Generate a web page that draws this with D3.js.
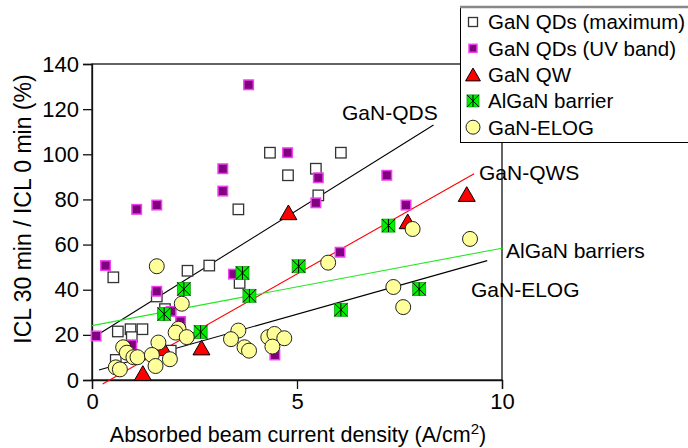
<!DOCTYPE html>
<html>
<head>
<meta charset="utf-8">
<script src="https://cdn.jsdelivr.net/npm/d3@7"></script>
<style>
  html, body { margin: 0; padding: 0; background: #fff; }
  svg { display: block; font-family: "Liberation Sans", Arial, Helvetica, sans-serif; }
</style>
</head>
<body>
<svg id="chart" width="688" height="448"></svg>
<script>
// ICL ratio after 30 min vs. absorbed beam current density, per sample type
const qdMax = [[0.52,45.5],[0.63,21.5],[0.94,22.5],[1.23,22.5],[0.97,19],[0.58,8.9],[1.58,37],
  [1.78,31.4],[1.92,13],[2.33,48.4],[2.86,50.7],[3.6,43],[3.57,75.6],[4.34,100.7],[4.78,90.7],
  [5.46,93.6],[5.52,81.8],[6.07,100.7]];
const qdUV = [[0.1,19.5],[0.33,50.7],[1.09,75.6],[1.58,77.5],[1.58,39.3],[1.93,30.4],[2.16,25.9],
  [0.97,15.6],[3.19,93.6],[3.19,83.7],[3.45,46.9],[3.82,130.8],[4.77,100.7],[4.46,11.1],
  [5.52,89.6],[5.46,78.5],[6.05,56.6],[7.19,90.7],[7.66,77.5]];
const qw = [[1.24,2],[1.74,13],[2.67,13.3],[4.79,73.2],[7.70,69.2],[9.14,81.3]];
const algan = [[1.76,29.2],[2.24,40.3],[2.65,21.3],[3.67,47.4],[3.84,37.3],[5.04,50.4],
  [6.07,31.1],[7.23,68.4],[7.98,40.3]];
const elog = [[1.58,50.4],[2.19,33.8],[2.11,22.7],[2.04,21.0],[2.31,19.0],[0.76,14.5],[0.85,12.1],
  [1.01,10.1],[1.11,10.1],[1.62,16.6],[1.46,11.1],[1.55,6.2],[1.90,9.2],[0.58,5.6],[0.68,4.7],
  [3.57,21.9],[3.39,18.1],[3.72,14.5],[3.83,13.0],[4.30,19.0],[4.45,20.4],[4.69,18.5],[4.40,14.8],
  [5.76,52],[7.35,41.2],[7.59,32.3],[7.82,66.9],[9.22,62.5]];

// linear trend lines (end points) and their labels
const fitQDs = [[0.07,19.3],[8.33,113]];
const fitQWs = [[0.26,-1.8],[9.32,91.4]];
const fitAlGaN = [[0,24.1],[10.03,58.5]];
const fitELOG = [[0.17,4.4],[9.64,52.9]];
const fitLabels = ["GaN-QDS","GaN-QWS","AlGaN barriers","GaN-ELOG"];

const legendNames = ["GaN QDs (maximum)","GaN QDs (UV band)","GaN QW","AlGaN barrier","GaN-ELOG"];
const xTicks = [0,5,10];
const yTicks = [0,20,40,60,80,100,120,140];

const svg = d3.select("#chart");
const x = d3.scaleLinear().domain([0,10]).range([92,502]);
const y = d3.scaleLinear().domain([0,140]).range([380,64]);
const FS = 21;

// frame
svg.append("rect").attr("x",x(0)).attr("y",y(140)).attr("width",x(10)-x(0)).attr("height",y(0)-y(140))
  .attr("fill","none").attr("stroke","#111").attr("stroke-width",1.3);

// axes
const yAxis = svg.append("g").attr("transform",`translate(${x(0)},0)`)
  .call(d3.axisLeft(y).tickValues(yTicks).tickSize(9).tickPadding(4).tickFormat(d3.format("d")));
const xAxis = svg.append("g").attr("transform",`translate(0,${y(0)})`)
  .call(d3.axisBottom(x).tickValues(xTicks).tickSize(9).tickPadding(4).tickFormat(d3.format("d")));
[yAxis,xAxis].forEach(g => {
  g.select(".domain").attr("stroke","#111").attr("stroke-width",1.3);
  g.selectAll(".tick line").attr("stroke","#111").attr("stroke-width",1.3);
  g.selectAll(".tick text").attr("fill","#000").style("font-size","22px")
    .style("font-family",'"Liberation Sans", Arial, sans-serif');
});

// axis titles
const xt = svg.append("text").attr("x",298).attr("y",442).attr("text-anchor","middle")
  .style("font-size","21.5px").attr("fill","#000");
xt.append("tspan").text("Absorbed beam current density (A/cm");
xt.append("tspan").attr("dy",-8).style("font-size","15px").text("2");
xt.append("tspan").attr("dy",8).text(")");
svg.append("text").attr("transform","translate(31,209) rotate(-90)").attr("text-anchor","middle")
  .style("font-size","23px").attr("fill","#000").text("ICL 30 min / ICL 0 min (%)");

// trend lines
const line = d3.line().x(d => x(d[0])).y(d => y(d[1]));
[[fitQDs,"#000"],[fitQWs,"#ff0000"],[fitAlGaN,"#22e822"],[fitELOG,"#000"]].forEach(([pts,c]) => {
  svg.append("path").attr("d",line(pts)).attr("fill","none").attr("stroke",c).attr("stroke-width",1.1);
});

// marker painters
function whiteSq(g, s) {
  g.append("rect").attr("x",-s/2).attr("y",-s/2).attr("width",s).attr("height",s)
    .attr("fill","#fff").attr("stroke","#333").attr("stroke-width",1.3);
}
function purpleSq(g, s) {
  g.append("rect").attr("x",-s/2).attr("y",-s/2).attr("width",s).attr("height",s)
    .attr("fill","#800080").attr("stroke","#f040f0").attr("stroke-width",1.5);
}
function tri(g, s) {
  g.append("path").attr("d",d3.symbol(d3.symbolTriangle, s)())
    .attr("fill","#ff0000").attr("stroke","#000").attr("stroke-width",1);
}
function greenSq(g, s) {
  const h = s/2;
  g.append("rect").attr("x",-h).attr("y",-h).attr("width",s).attr("height",s)
    .attr("fill","#00ee00").attr("stroke","#1a9a1a").attr("stroke-width",0.8);
  g.append("path").attr("d",`M${-h},${-h}L${h},${h}M${h},${-h}L${-h},${h}M0,${-h}L0,${h}`)
    .attr("stroke","#000").attr("stroke-width",1).attr("fill","none");
}
function yellowDot(g, r) {
  g.append("circle").attr("r",r).attr("fill","#ffff99").attr("stroke","#222").attr("stroke-width",1);
}

function plotSeries(data, paint, size) {
  const g = svg.append("g");
  data.forEach(d => {
    const m = g.append("g").attr("transform",`translate(${x(d[0])},${y(d[1])})`);
    paint(m, size);
  });
}
plotSeries(qdMax, whiteSq, 10.5);
plotSeries(qdUV, purpleSq, 9.5);
plotSeries(qw, tri, 125);
plotSeries(algan, greenSq, 13);
plotSeries(elog, yellowDot, 7.5);

// trend line labels
const labPos = [[342,120],[479,180],[506,258],[471,297]];
fitLabels.forEach((t,i) => {
  svg.append("text").attr("x",labPos[i][0]).attr("y",labPos[i][1]).style("font-size",FS+"px")
    .attr("fill","#000").text(t);
});

// legend
const lg = svg.append("g");
lg.append("rect").attr("x",460.5).attr("y",7.5).attr("width",240).attr("height",135)
  .attr("fill","#fff").attr("stroke","#000").attr("stroke-width",1);
lg.append("line").attr("x1",460).attr("x2",688).attr("y1",7).attr("y2",7)
  .attr("stroke","#888").attr("stroke-width",2.5);
const painters = [[whiteSq,9],[purpleSq,8],[tri,95],[greenSq,12],[yellowDot,7]];
legendNames.forEach((name,i) => {
  const cy = 22 + i*26.3;
  const m = lg.append("g").attr("transform",`translate(473,${cy + (i===2 ? 2 : 0)})`);
  painters[i][0](m, painters[i][1]);
  lg.append("text").attr("x",488).attr("y",cy).attr("dy","0.36em").style("font-size","20.5px")
    .attr("fill","#000").text(name);
});
</script>
</body>
</html>
